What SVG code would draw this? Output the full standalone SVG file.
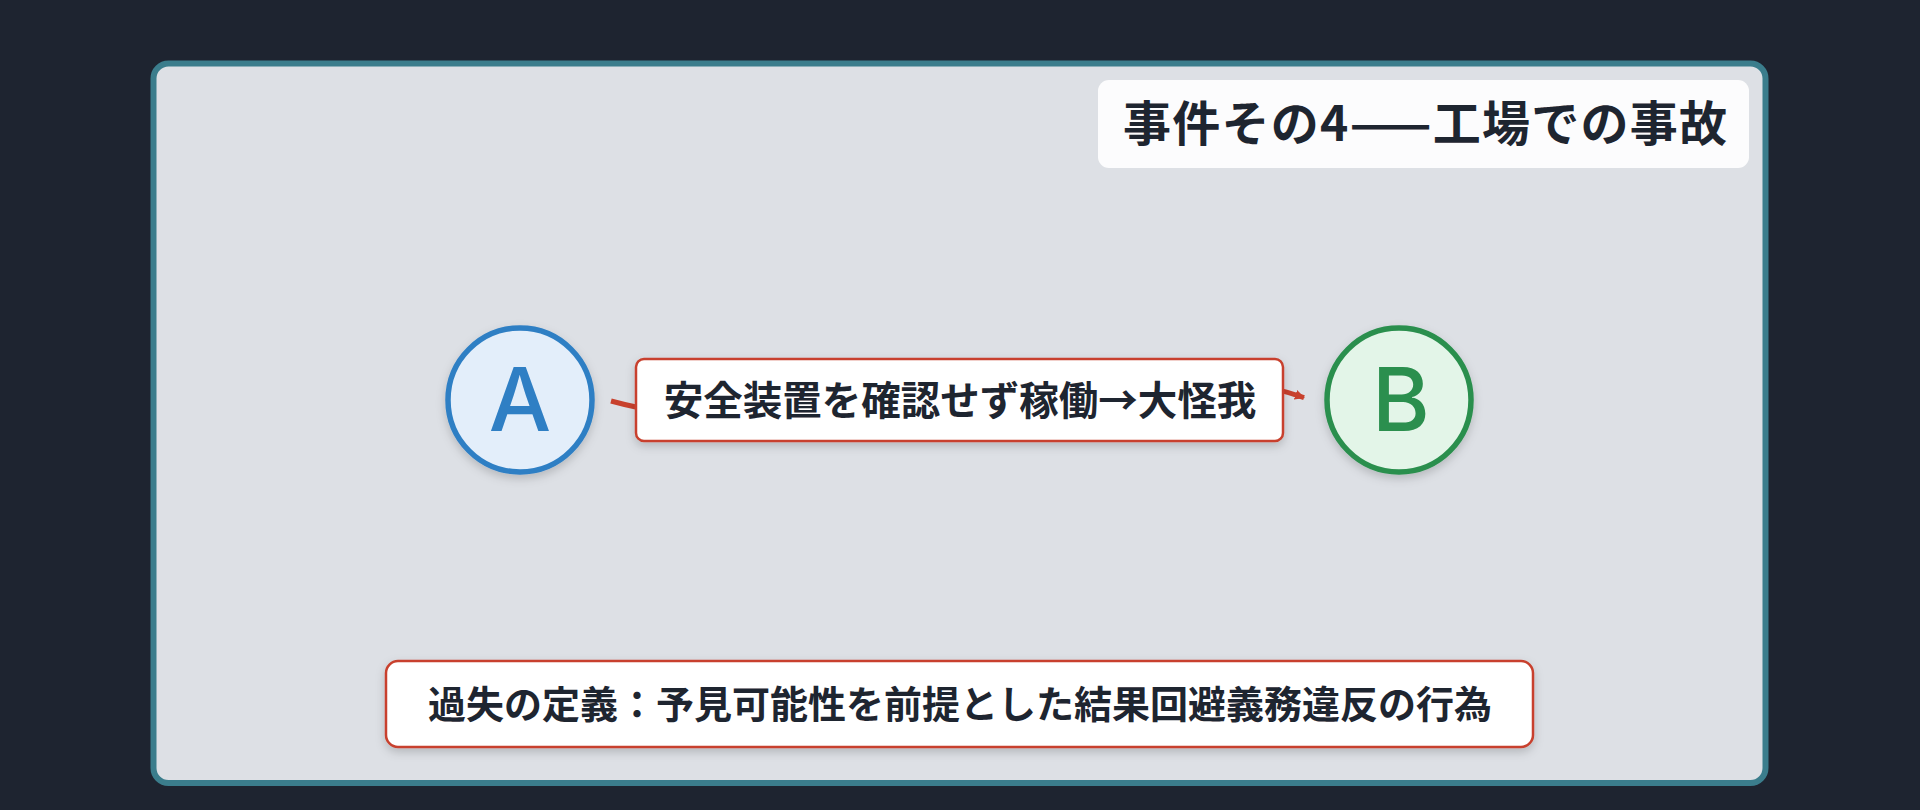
<svg xmlns="http://www.w3.org/2000/svg" width="1920" height="810" viewBox="0 0 1920 810">
  <defs>
    <filter id="shadow" x="-20%" y="-30%" width="140%" height="160%">
      <feDropShadow dx="0" dy="4" stdDeviation="5" flood-color="#000000" flood-opacity="0.18"/>
    </filter>
    <marker id="arrow" viewBox="0 0 10 10" refX="9" refY="5" markerWidth="10" markerHeight="10" markerUnits="userSpaceOnUse" orient="auto">
      <path d="M0,0 L10,5 L0,10 Z" fill="#c8412d"/>
    </marker>
    <style>
      .jp { font-family: "Noto Sans CJK JP", "Noto Sans", "Liberation Sans", sans-serif; font-weight: 700; fill: #1e2530; }
      .box { fill: #ffffff; stroke: #c8412d; stroke-width: 2.5; }
      .letter { font-family: Inter, "Noto Sans", "Liberation Sans", sans-serif; font-weight: 500; font-size: 88px; text-anchor: middle; }
      .conn { fill: none; stroke: #c8412d; stroke-width: 5; }
    </style>
  </defs>
  <rect x="0" y="0" width="1920" height="810" fill="#1e2430"/>
  <rect id="frame" x="153.5" y="63.5" width="1612" height="719.5" rx="15" fill="#dde0e5" stroke="#3b7d8c" stroke-width="6"/>

  <g id="title">
    <rect x="1098" y="80" width="651" height="88" rx="11" fill="#fcfcfd"/>
    <text class="jp" x="1425" y="141" font-size="48" text-anchor="middle" textLength="604" lengthAdjust="spacing">事件その4——工場での事故</text>
  </g>

  <g id="connectors">
    <path class="conn" d="M611,401 C841,465 1081,322 1304,397.6" marker-end="url(#arrow)"/>
  </g>

  <g id="edge-label">
    <rect class="box" x="636" y="359" width="647" height="82" rx="8" filter="url(#shadow)"/>
    <text class="jp" x="960" y="415" font-size="39.5" text-anchor="middle">安全装置を確認せず稼働→大怪我</text>
  </g>

  <g id="node-A">
    <circle cx="520" cy="400" r="72" fill="#e3eefa" stroke="#2f7fc4" stroke-width="5.5" filter="url(#shadow)"/>
    <text class="letter" x="520" y="431" fill="#2f7fc4">A</text>
  </g>

  <g id="node-B">
    <circle cx="1399" cy="400" r="72" fill="#e3f5e8" stroke="#2b8f4e" stroke-width="5.5" filter="url(#shadow)"/>
    <text class="letter" x="1401" y="431" fill="#2b8f4e">B</text>
  </g>

  <g id="definition">
    <rect class="box" x="386" y="661" width="1147" height="86" rx="12" filter="url(#shadow)"/>
    <text class="jp" x="960" y="718" font-size="38" text-anchor="middle">過失の定義：予見可能性を前提とした結果回避義務違反の行為</text>
  </g>
</svg>
